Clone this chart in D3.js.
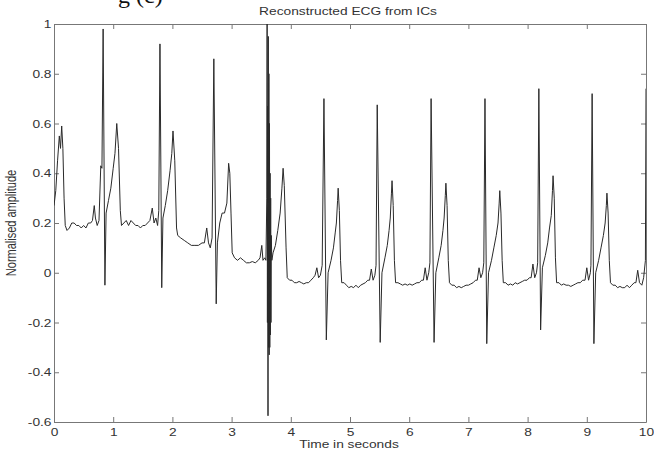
<!DOCTYPE html>
<html>
<head>
<meta charset="utf-8">
<script src="https://cdn.jsdelivr.net/npm/d3@7"></script>
<style>
body { margin: 0; background: #fff; }
svg { display: block; }
text { font-family: "Liberation Sans", Arial, sans-serif; }
</style>
</head>
<body>
<div id="plot"></div>
<script>
"use strict";

//
//   CONSTANTS
//

var WIDTH = 654;
var HEIGHT = 450;
var LEFT = 54, RIGHT = 646, TOP = 24, BOTTOM = 422;
var STRETCH = 1.25; // the scanned figure is a bit wider than tall
var TICK = 5;

//
//   DATA
//

var title = "Reconstructed ECG from ICs";
var xLabel = "Time in seconds";
var yLabel = "Normalised amplitude";

var xTicks = [0, 1, 2, 3, 4, 5, 6, 7, 8, 9, 10];
var yTicks = [-0.6, -0.4, -0.2, 0, 0.2, 0.4, 0.6, 0.8, 1];
var yTickLabels = ["-0.6", "-0.4", "-0.2", "0", "0.2", "0.4", "0.6", "0.8", "1"];

// [time in s, amplitude]
var ecg = [
    [0.00, 0.27], [0.03, 0.33], [0.06, 0.45], [0.09, 0.55], [0.11, 0.50], [0.13, 0.59], [0.15, 0.50], [0.17, 0.30], [0.19, 0.19], [0.22, 0.17],
    [0.26, 0.18], [0.30, 0.20], [0.34, 0.20], [0.38, 0.19], [0.42, 0.19], [0.46, 0.18], [0.50, 0.19], [0.54, 0.18], [0.58, 0.20], [0.62, 0.20],
    [0.65, 0.21], [0.68, 0.27], [0.70, 0.22], [0.73, 0.19], [0.76, 0.21], [0.79, 0.43], [0.81, 0.42], [0.83, 0.98], [0.86, -0.05], [0.88, 0.24],
    [0.92, 0.29], [0.96, 0.34], [1.00, 0.42], [1.03, 0.48], [1.06, 0.60], [1.09, 0.50], [1.12, 0.25], [1.14, 0.19],
    [1.18, 0.20], [1.22, 0.21], [1.26, 0.19], [1.30, 0.21], [1.34, 0.20], [1.38, 0.19], [1.42, 0.19], [1.46, 0.18], [1.50, 0.19], [1.54, 0.19],
    [1.58, 0.20], [1.62, 0.21], [1.66, 0.26], [1.69, 0.20], [1.72, 0.22], [1.75, 0.19], [1.77, 0.25], [1.79, 0.92], [1.82, -0.06], [1.84, 0.22],
    [1.88, 0.27], [1.92, 0.33], [1.96, 0.41], [1.99, 0.48], [2.01, 0.57], [2.04, 0.45], [2.07, 0.18], [2.09, 0.15],
    [2.14, 0.14], [2.20, 0.13], [2.26, 0.12], [2.32, 0.11], [2.38, 0.11], [2.44, 0.11], [2.50, 0.12], [2.54, 0.12], [2.58, 0.18], [2.61, 0.12],
    [2.64, 0.10], [2.67, 0.14], [2.70, 0.86], [2.74, -0.125], [2.76, 0.12],
    [2.80, 0.20], [2.84, 0.24], [2.88, 0.24], [2.92, 0.28], [2.95, 0.44], [2.97, 0.40], [2.99, 0.24], [3.01, 0.08],
    [3.05, 0.06], [3.10, 0.05], [3.15, 0.06], [3.20, 0.05], [3.25, 0.04], [3.30, 0.04], [3.35, 0.045], [3.40, 0.04], [3.45, 0.05], [3.48, 0.06],
    [3.51, 0.11], [3.53, 0.05], [3.56, 0.06], [3.58, 0.05],
    [3.595, 0.3], [3.60, 1.0], [3.605, -0.2], [3.61, 0.67], [3.615, -0.575], [3.62, 0.95], [3.625, -0.3], [3.63, 0.8], [3.635, -0.33], [3.64, 0.6],
    [3.645, -0.3], [3.65, 0.4], [3.655, -0.25], [3.66, 0.3], [3.665, -0.2], [3.67, 0.15], [3.68, 0.05], [3.70, 0.08],
    [3.74, 0.11], [3.78, 0.17], [3.82, 0.24], [3.85, 0.34], [3.87, 0.42], [3.89, 0.35], [3.92, 0.10], [3.94, -0.02],
    [3.98, -0.03], [4.02, -0.03], [4.06, -0.04], [4.10, -0.04], [4.14, -0.035], [4.18, -0.04], [4.22, -0.045], [4.26, -0.04], [4.30, -0.04], [4.34, -0.03],
    [4.38, -0.02], [4.41, -0.01], [4.44, 0.02], [4.47, -0.02], [4.50, -0.01], [4.53, 0.03], [4.56, 0.70], [4.60, -0.27], [4.63, 0.00],
    [4.68, 0.05], [4.72, 0.10], [4.75, 0.16], [4.77, 0.20], [4.79, 0.29], [4.80, 0.34], [4.82, 0.25], [4.84, 0.05], [4.86, -0.04],
    [4.90, -0.04], [4.94, -0.05], [4.98, -0.06], [5.02, -0.055], [5.06, -0.06], [5.10, -0.05], [5.14, -0.06], [5.18, -0.05], [5.22, -0.045], [5.26, -0.04],
    [5.30, -0.03], [5.33, -0.03], [5.36, 0.015], [5.39, -0.03], [5.42, -0.01], [5.44, 0.03], [5.46, 0.675], [5.51, -0.28], [5.54, 0.00],
    [5.59, 0.06], [5.63, 0.11], [5.66, 0.17], [5.68, 0.22], [5.70, 0.32], [5.71, 0.37], [5.73, 0.27], [5.75, 0.05], [5.77, -0.04],
    [5.81, -0.04], [5.85, -0.045], [5.89, -0.05], [5.93, -0.045], [5.97, -0.05], [6.01, -0.045], [6.05, -0.05], [6.09, -0.045], [6.13, -0.04], [6.17, -0.04],
    [6.21, -0.03], [6.24, -0.03], [6.27, 0.02], [6.30, -0.03], [6.33, 0.00], [6.35, 0.04], [6.37, 0.70], [6.42, -0.28], [6.45, 0.00],
    [6.50, 0.06], [6.54, 0.11], [6.57, 0.17], [6.59, 0.22], [6.61, 0.31], [6.62, 0.36], [6.64, 0.27], [6.66, 0.05], [6.68, -0.04],
    [6.72, -0.05], [6.76, -0.05], [6.80, -0.06], [6.84, -0.055], [6.88, -0.06], [6.92, -0.055], [6.96, -0.05], [7.00, -0.05], [7.04, -0.045], [7.08, -0.04],
    [7.12, -0.03], [7.15, -0.03], [7.18, 0.02], [7.21, -0.02], [7.24, 0.00], [7.26, 0.04], [7.28, 0.70], [7.31, -0.285], [7.34, 0.00],
    [7.39, 0.05], [7.43, 0.10], [7.47, 0.15], [7.50, 0.20], [7.52, 0.28], [7.53, 0.33], [7.55, 0.24], [7.57, 0.05], [7.59, -0.04],
    [7.63, -0.04], [7.67, -0.05], [7.71, -0.045], [7.75, -0.05], [7.79, -0.04], [7.83, -0.045], [7.87, -0.04], [7.91, -0.035], [7.95, -0.03], [7.99, -0.03],
    [8.03, -0.02], [8.06, -0.02], [8.09, 0.035], [8.12, -0.02], [8.15, 0.00], [8.17, 0.04], [8.19, 0.74], [8.22, -0.23], [8.25, 0.02],
    [8.30, 0.07], [8.34, 0.12], [8.37, 0.18], [8.40, 0.23], [8.42, 0.33], [8.43, 0.39], [8.45, 0.30], [8.47, 0.06], [8.49, -0.04],
    [8.53, -0.04], [8.57, -0.05], [8.61, -0.045], [8.65, -0.05], [8.69, -0.05], [8.73, -0.055], [8.77, -0.05], [8.81, -0.045], [8.85, -0.04], [8.89, -0.04],
    [8.93, -0.03], [8.97, -0.03], [9.00, 0.02], [9.03, -0.03], [9.06, 0.00], [9.07, 0.03], [9.09, 0.72], [9.12, -0.285], [9.15, 0.00],
    [9.20, 0.05], [9.24, 0.10], [9.28, 0.15], [9.31, 0.20], [9.33, 0.27], [9.34, 0.32], [9.36, 0.24], [9.38, 0.05], [9.40, -0.04],
    [9.44, -0.05], [9.48, -0.05], [9.52, -0.06], [9.56, -0.055], [9.60, -0.06], [9.64, -0.06], [9.68, -0.05], [9.72, -0.06], [9.76, -0.05], [9.80, -0.04],
    [9.83, -0.04], [9.86, 0.01], [9.89, -0.04], [9.93, -0.05], [9.96, -0.02], [9.99, 0.05], [10.0, 0.74]
];


//
//   SET UP CHART
//

var svg = d3.select("#plot").append("svg")
    .attr("width", WIDTH)
    .attr("height", HEIGHT);

var scaleX = d3.scaleLinear().domain([0, 10]).range([LEFT, RIGHT]);
var scaleY = d3.scaleLinear().domain([-0.6, 1]).range([BOTTOM, TOP]);

svg.append("clipPath").attr("id", "clip")
    .append("rect")
    .attr("x", LEFT).attr("y", TOP)
    .attr("width", RIGHT - LEFT).attr("height", BOTTOM - TOP);

// bit of the figure caption above, cut by the page edge
svg.append("text")
    .text("g (c)")
    .attr("x", 118)
    .attr("y", 3)
    .style("font-family", "'Liberation Serif', serif")
    .style("font-size", "24px")
    .style("fill", "#111");

drawAxes();
drawLine();
drawLabels();


//
//   DRAWING
//

function drawAxes() {
    var bottom = d3.axisBottom(scaleX).tickValues(xTicks)
        .tickSizeInner(-TICK).tickSizeOuter(0).tickPadding(6);
    var top = d3.axisTop(scaleX).tickValues(xTicks)
        .tickSizeInner(-TICK).tickSizeOuter(0).tickFormat("");
    var left = d3.axisLeft(scaleY).tickValues(yTicks)
        .tickSizeInner(-TICK).tickSizeOuter(0).tickPadding(2)
        .tickFormat(function (d, i) { return yTickLabels[i]; });
    var right = d3.axisRight(scaleY).tickValues(yTicks)
        .tickSizeInner(-TICK).tickSizeOuter(0).tickFormat("");

    var gb = svg.append("g").attr("transform", translate(0, BOTTOM)).call(bottom);
    var gt = svg.append("g").attr("transform", translate(0, TOP)).call(top);
    var gl = svg.append("g").attr("transform", translate(LEFT, 0)).call(left);
    var gr = svg.append("g").attr("transform", translate(RIGHT, 0)).call(right);

    [gb, gt, gl, gr].forEach(function (g) {
        g.select(".domain").style("stroke", "#777");
        g.selectAll(".tick line").style("stroke", "#777");
        g.selectAll(".tick text")
            .style("font-family", "'Liberation Sans', Arial, sans-serif")
            .style("font-size", "11px")
            .style("fill", "#333")
            .attr("transform", "scale(" + STRETCH + ",1)");
    });
}

function drawLine() {
    var pathGenerator = d3.line()
        .x(function (d) { return scaleX(d[0]); })
        .y(function (d) { return scaleY(d[1]); });

    svg.append("path")
        .datum(ecg)
        .attr("clip-path", "url(#clip)")
        .attr("d", pathGenerator)
        .style("fill", "none")
        .style("stroke", "#2a2a2a")
        .style("stroke-width", 1)
        .style("stroke-linejoin", "round");
}

function drawLabels() {
    svg.append("text")
        .text(title)
        .attr("transform", translate(348, 15) + " scale(" + STRETCH + ",1)")
        .attr("text-anchor", "middle")
        .style("font-size", "11px")
        .style("fill", "#333");

    svg.append("text")
        .text(xLabel)
        .attr("transform", translate(349, 448) + " scale(" + STRETCH + ",1)")
        .attr("text-anchor", "middle")
        .style("font-size", "11px")
        .style("fill", "#333");

    svg.append("text")
        .text(yLabel)
        .attr("transform", translate(16, 223) + " scale(" + STRETCH + ",1) rotate(-90)")
        .attr("text-anchor", "middle")
        .style("font-size", "11px")
        .style("fill", "#333");
}

function translate(x, y) {
    return "translate(" + x + "," + y + ")";
}
</script>
</body>
</html>
